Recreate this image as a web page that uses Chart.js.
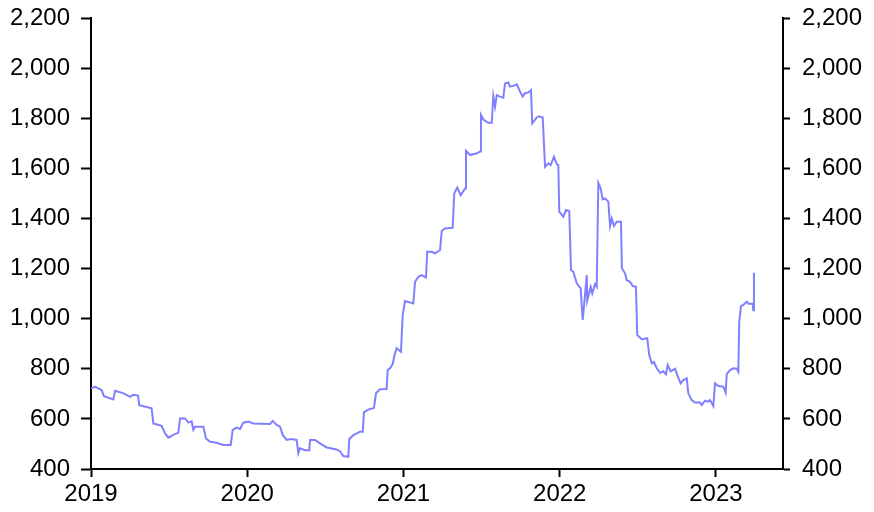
<!DOCTYPE html>
<html>
<head>
<meta charset="utf-8">
<script src="https://cdn.jsdelivr.net/npm/chart.js@4/dist/chart.umd.min.js"></script>
<style>
  html, body { margin: 0; padding: 0; background: #fff; }
  #chart { display: block; }
</style>
</head>
<body>
<canvas id="chart" width="874" height="512"></canvas>
<script>
// decimal years
const years = [
  2019.000, 2019.026, 2019.068, 2019.083, 2019.143, 2019.154, 2019.205, 2019.250, 2019.269, 2019.301,
  2019.309, 2019.388, 2019.399, 2019.452, 2019.474, 2019.495, 2019.527, 2019.559, 2019.570, 2019.602,
  2019.623, 2019.644, 2019.655, 2019.666, 2019.719, 2019.736, 2019.762, 2019.804, 2019.847, 2019.894,
  2019.907, 2019.932, 2019.954, 2019.975, 2020.007, 2020.039, 2020.146, 2020.163, 2020.188, 2020.210,
  2020.227, 2020.252, 2020.280, 2020.316, 2020.327, 2020.338, 2020.370, 2020.397, 2020.402, 2020.434,
  2020.466, 2020.508, 2020.572, 2020.594, 2020.615, 2020.647, 2020.653, 2020.679, 2020.722, 2020.739,
  2020.747, 2020.775, 2020.811, 2020.824, 2020.850, 2020.892, 2020.899, 2020.914, 2020.931, 2020.941,
  2020.956, 2020.984, 2020.995, 2021.010, 2021.063, 2021.074, 2021.095, 2021.116, 2021.144, 2021.152,
  2021.180, 2021.202, 2021.234, 2021.245, 2021.266, 2021.315, 2021.325, 2021.344, 2021.366, 2021.394,
  2021.400, 2021.426, 2021.469, 2021.490, 2021.496, 2021.511, 2021.543, 2021.565, 2021.575, 2021.586,
  2021.597, 2021.618, 2021.639, 2021.650, 2021.671, 2021.682, 2021.703, 2021.725, 2021.746, 2021.763,
  2021.778, 2021.799, 2021.816, 2021.824, 2021.853, 2021.867, 2021.891, 2021.906, 2021.927, 2021.942,
  2021.963, 2021.981, 2021.991, 2021.997, 2022.023, 2022.040, 2022.061, 2022.072, 2022.087, 2022.109,
  2022.134, 2022.147, 2022.157, 2022.173, 2022.176, 2022.198, 2022.208, 2022.226, 2022.237, 2022.247,
  2022.262, 2022.275, 2022.290, 2022.311, 2022.322, 2022.333, 2022.347, 2022.365, 2022.392, 2022.398,
  2022.418, 2022.429, 2022.450, 2022.467, 2022.488, 2022.496, 2022.525, 2022.560, 2022.573, 2022.589,
  2022.603, 2022.621, 2022.642, 2022.663, 2022.680, 2022.691, 2022.710, 2022.738, 2022.755, 2022.774,
  2022.791, 2022.813, 2022.823, 2022.845, 2022.866, 2022.898, 2022.909, 2022.930, 2022.949, 2022.962,
  2022.983, 2022.994, 2023.015, 2023.047, 2023.062, 2023.069, 2023.090, 2023.111, 2023.133, 2023.143,
  2023.149, 2023.160, 2023.175, 2023.197, 2023.207, 2023.235, 2023.239, 2023.243
];

const values = [
  722, 728, 715, 691, 678, 712, 703, 688, 696, 693,
  655, 642, 582, 572, 542, 525, 536, 545, 602, 602,
  585, 590, 556, 569, 569, 522, 509, 505, 496, 496,
  556, 565, 560, 585, 589, 582, 580, 592, 576, 569,
  536, 516, 520, 516, 463, 483, 475, 475, 516, 516,
  502, 486, 478, 470, 452, 449, 520, 535, 549, 549,
  627, 637, 644, 702, 718, 719, 795, 802, 819, 851,
  882, 868, 1015, 1070, 1061, 1147, 1167, 1174, 1165, 1267,
  1267, 1261, 1274, 1351, 1360, 1363, 1500, 1523, 1493, 1520,
  1670, 1653, 1660, 1667, 1813, 1795, 1782, 1782, 1888, 1846,
  1892, 1886, 1882, 1939, 1943, 1926, 1929, 1935, 1906, 1886,
  1900, 1903, 1912, 1779, 1803, 1808, 1803, 1606, 1620, 1613,
  1646, 1617, 1613, 1427, 1407, 1434, 1430, 1194, 1187, 1141,
  1121, 995, 1061, 1174, 1072, 1127, 1101, 1138, 1127, 1542,
  1520, 1476, 1480, 1467, 1370, 1400, 1370, 1387, 1387, 1201,
  1181, 1154, 1147, 1130, 1127, 935, 918, 922, 855, 822,
  827, 802, 784, 790, 778, 815, 790, 800, 771, 742,
  755, 762, 702, 675, 665, 665, 655, 673, 669, 675,
  651, 742, 731, 729, 704, 779, 795, 802, 800, 788,
  988, 1050, 1055, 1068, 1060, 1060, 1034, 1183
];

const xMin = 2019;
const xMax = 2023.429;
const yTicks = [400, 600, 800, 1000, 1200, 1400, 1600, 1800, 2000, 2200];

Chart.defaults.font.family = "'Liberation Sans', Arial, sans-serif";
Chart.defaults.font.size = 24;
Chart.defaults.color = '#000';

const points = years.map((x, i) => ({ x: x, y: values[i] }));

function yAxis(pos, tickLen, pad, width) {
  return {
    type: 'linear',
    position: pos,
    min: yTicks[0],
    max: yTicks[yTicks.length - 1],
    afterBuildTicks: s => { s.ticks = yTicks.map(v => ({ value: v })); },
    afterFit: s => { s.width = width; s.paddingTop = 0; s.paddingBottom = 0; },
    ticks: {
      padding: pad,
      callback: v => Number(v).toLocaleString('en-US')
    },
    grid: { drawOnChartArea: false, drawTicks: true, tickLength: tickLen, tickColor: '#000', tickWidth: 2 },
    border: { display: true, color: '#000', width: 2 }
  };
}

new Chart(document.getElementById('chart').getContext('2d'), {
  type: 'line',
  data: {
    datasets: [{
      data: points,
      borderColor: '#7f7fff',
      borderWidth: 2,
      pointRadius: 0,
      tension: 0,
      fill: false,
      yAxisID: 'y'
    }]
  },
  options: {
    responsive: false,
    animation: false,
    layout: { padding: { top: 18, left: 0, right: 0, bottom: 0 } },
    plugins: { legend: { display: false }, tooltip: { enabled: false } },
    scales: {
      x: {
        type: 'linear',
        min: xMin,
        max: xMax,
        afterFit: s => { s.height = 43; s.paddingLeft = 0; s.paddingRight = 0; },
        ticks: {
          stepSize: 1,
          includeBounds: false,
          padding: 3,
          maxRotation: 0,
          callback: v => String(v)
        },
        grid: { drawOnChartArea: false, drawTicks: true, tickLength: 8, tickColor: '#000', tickWidth: 2 },
        border: { display: true, color: '#000', width: 2 }
      },
      y: yAxis('left', 10, 11, 91),
      y2: yAxis('right', 7, 12, 91)
    }
  }
});
</script>
</body>
</html>
